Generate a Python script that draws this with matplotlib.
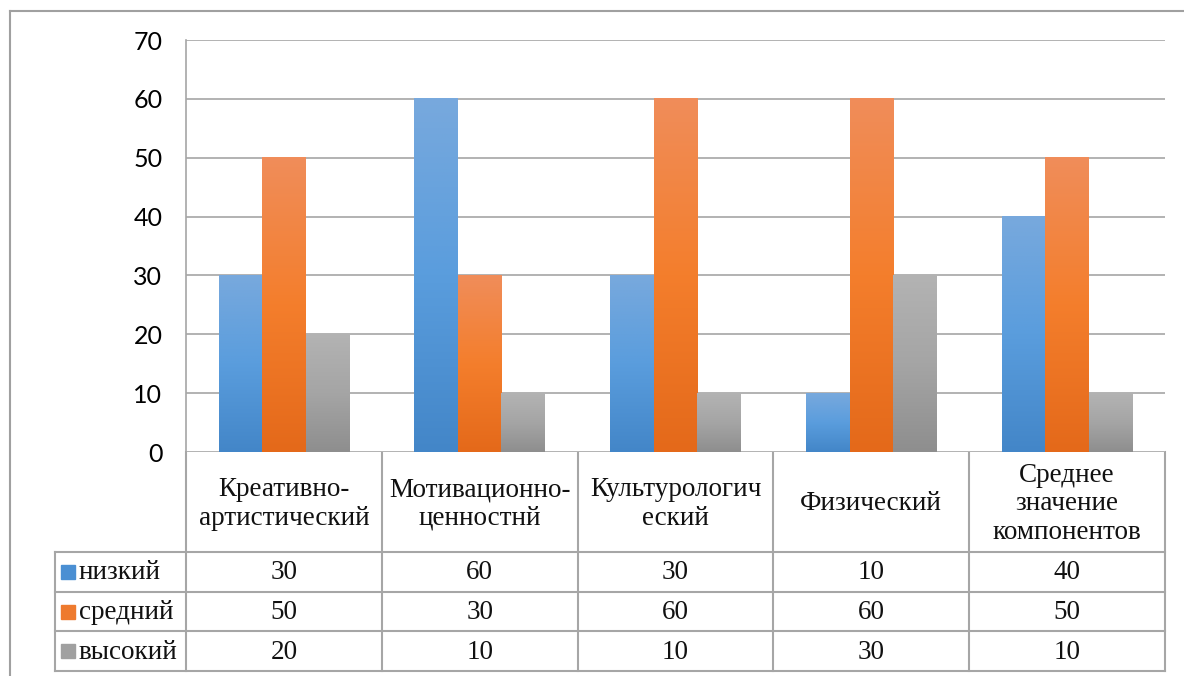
import numpy as np
import matplotlib.pyplot as plt
from matplotlib.colors import LinearSegmentedColormap

categories = ['Креативно-\nартистический', 'Мотивационно-\nценностнй',
              'Культурологич\nеский', 'Физический',
              'Среднее\nзначение\nкомпонентов']
series_names = ['низкий', 'средний', 'высокий']
low = [30, 60, 30, 10, 40]
mid = [50, 30, 60, 60, 50]
high = [20, 10, 10, 30, 10]
yticks = [0, 10, 20, 30, 40, 50, 60, 70]

# gradient stops: top, middle, bottom
grads = [['#78A9DD', '#5A9DDD', '#4386C8'],
         ['#F08D5A', '#F47E2C', '#E4691A'],
         ['#B3B3B3', '#A5A5A5', '#8E8E8E']]
legend_cols = ['#4A8FD3', '#EE7A2E', '#A0A0A0']
grid_col = '#A6A6A6'

W, H = 1184, 676
fig = plt.figure(figsize=(W / 100, H / 100), dpi=100)

# plot area in pixels
left, right, top, bottom = 186, 1165, 40, 452
ax = fig.add_axes([left / W, 1 - bottom / H, (right - left) / W, (bottom - top) / H])
ax.set_xlim(0, len(categories))
ax.set_ylim(0, 70)
ax.set_yticks(yticks)
ax.set_xticks([])
ax.yaxis.grid(True, color=grid_col, lw=1.2)
ax.set_axisbelow(True)
for s in ['top', 'right', 'bottom']:
    ax.spines[s].set_visible(False)
ax.spines['left'].set_color(grid_col)
ax.spines['left'].set_linewidth(1.2)
ax.tick_params(axis='y', length=0, pad=17, labelsize=18)
for lab in ax.get_yticklabels():
    lab.set_fontfamily('Lato')

bw = 0.222
x = np.arange(len(categories)) + 0.5
grad = np.linspace(0, 1, 256).reshape(-1, 1)
for k, vals in enumerate([low, mid, high]):
    cmap = LinearSegmentedColormap.from_list('g%d' % k, grads[k])
    bars = ax.bar(x + (k - 1) * bw, vals, bw, color='none', lw=0)
    for b in bars:
        x0, y0 = b.get_x(), b.get_y()
        ax.imshow(grad, cmap=cmap, aspect='auto', origin='upper',
                  extent=[x0, x0 + b.get_width(), y0, y0 + b.get_height()], zorder=2)
ax.set_xlim(0, len(categories))
ax.set_ylim(0, 70)

# overlay axes in pixel coords for table and frame
ov = fig.add_axes([0, 0, 1, 1], zorder=-1)
ov.set_xlim(0, W)
ov.set_ylim(H, 0)
ov.axis('off')

frame_col = '#A0A0A0'
ov.plot([10, 10], [11, H], color=frame_col, lw=1.5)
ov.plot([10, W], [11, 11], color=frame_col, lw=1.5)

cw = (right - left) / len(categories)
hdr_bot = 552
row_h = 39.7
leg_left = 55
rows = [hdr_bot + i * row_h for i in range(4)]
tab_bot = rows[-1]
for i in range(len(categories) + 1):
    xx = left + i * cw
    ov.plot([xx, xx], [bottom, tab_bot], color=grid_col, lw=1.5)
ov.plot([leg_left, leg_left], [hdr_bot, tab_bot], color=grid_col, lw=1.5)
for yy in rows:
    ov.plot([leg_left, right], [yy, yy], color=grid_col, lw=1.5)

serif = 'Liberation Serif'
fs = 19.5
for i, c in enumerate(categories):
    ov.text(left + (i + 0.5) * cw, (bottom + hdr_bot) / 2 + 2, c, ha='center', va='center',
            fontsize=fs, family=serif, linespacing=1.18, color='#111111')
for r, (name, vals) in enumerate(zip(series_names, [low, mid, high])):
    yc = rows[r] + row_h / 2
    ov.plot([68], [yc], marker='s', ms=10, color=legend_cols[r], lw=0)
    ov.text(79, yc + 1, name, ha='left', va='center', fontsize=fs, family=serif, color='#111111')
    for i, v in enumerate(vals):
        ov.text(left + (i + 0.5) * cw, yc + 1, str(v), ha='center', va='center',
                fontsize=fs, family=serif, color='#111111')

fig.savefig('out.png', dpi=100)
